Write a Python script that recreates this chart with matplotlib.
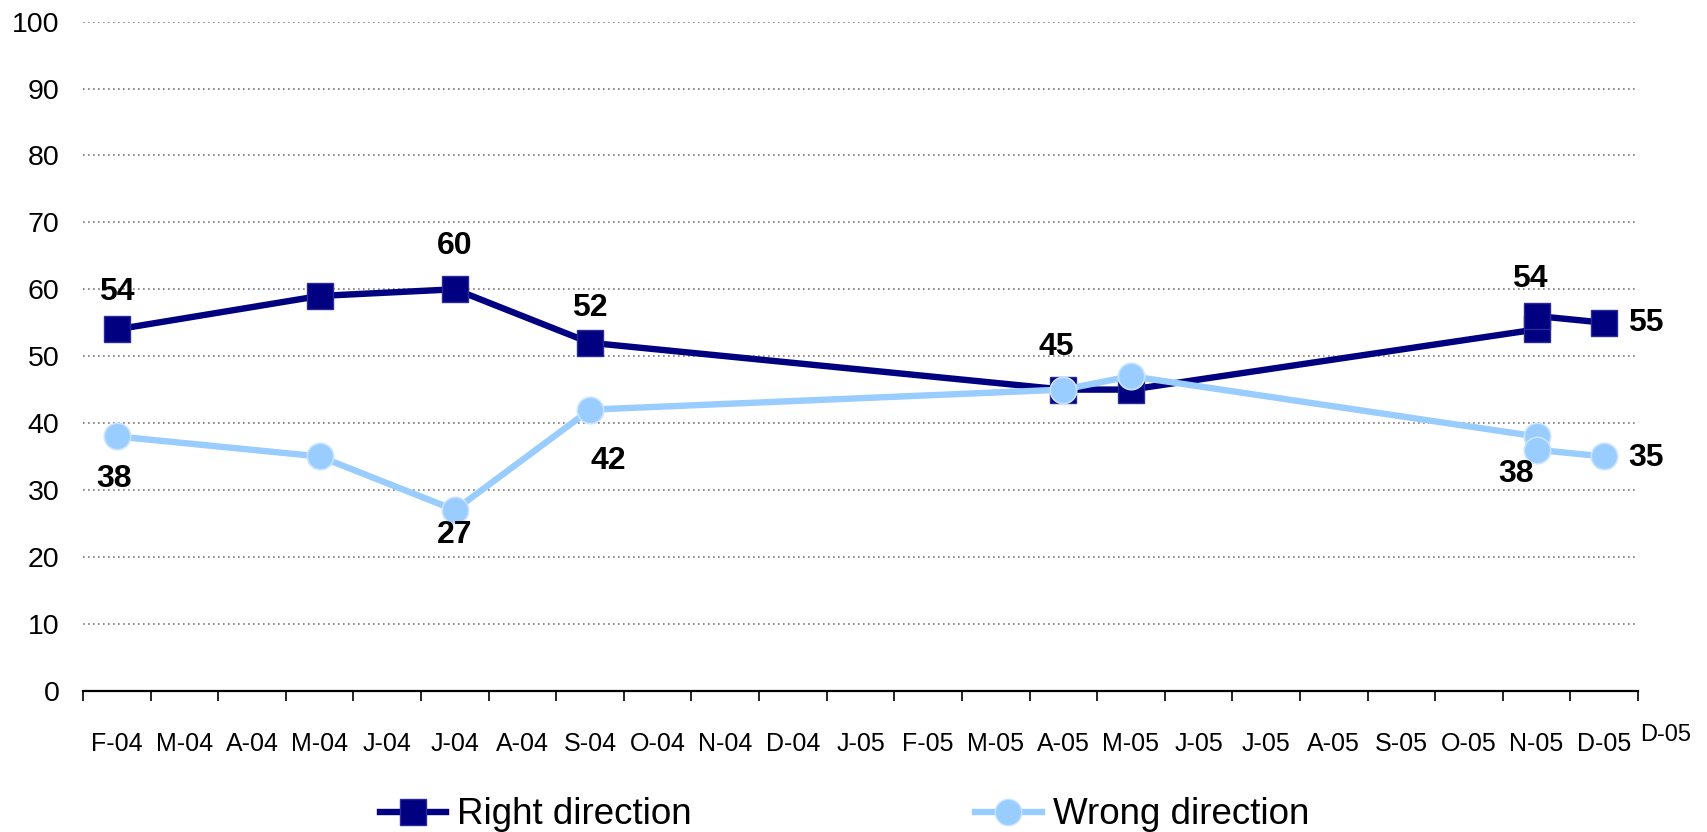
import numpy as np
import matplotlib.pyplot as plt
from matplotlib.lines import Line2D

plt.rcParams['font.family'] = ['Liberation Sans', 'DejaVu Sans']

# month axis, F-04 .. D-05
months = ['F-04', 'M-04', 'A-04', 'M-04', 'J-04', 'J-04', 'A-04', 'S-04', 'O-04',
          'N-04', 'D-04', 'J-05', 'F-05', 'M-05', 'A-05', 'M-05', 'J-05', 'J-05',
          'A-05', 'S-05', 'O-05', 'N-05', 'D-05']

# survey points (month index from F-04)
survey_x = [0, 3, 5, 7, 14, 15, 21, 21, 22]
right_dir = [54, 59, 60, 52, 45, 45, 54, 56, 55]
wrong_dir = [38, 35, 27, 42, 45, 47, 38, 36, 35]

# which points carry a value label, with offset in pixels
right_labels = {0: (0, 37), 2: (0, 43), 3: (0, 35), 4: (-7, 43), 6: (-7, 50), 8: (42, 0)}
wrong_labels = {0: (-3, -43), 2: (0, -25), 3: (18, -51), 6: (-20, -38), 8: (42, -2)}

navy = '#000080'
light = '#99ccff'

fig = plt.figure(figsize=(17.08, 8.32), dpi=100)
ax = fig.add_axes([83 / 1708, 1 - 690.6 / 832, (1638 - 83) / 1708, (690.6 - 21.7) / 832])

ax.plot(survey_x, right_dir, color=navy, lw=4.6, marker='s', ms=19,
        mfc=navy, mec='#2a2a9a', mew=1, label='Right direction', zorder=3)
ax.plot(survey_x, wrong_dir, color=light, lw=4.6, marker='o', ms=19,
        mfc=light, mec='#c8e4ff', mew=1.2, label='Wrong direction', zorder=4)

for i, (dx, dy) in right_labels.items():
    ax.annotate(str(right_dir[i]), (survey_x[i], right_dir[i]), xytext=(dx, dy),
                textcoords='offset pixels', ha='center', va='center',
                fontsize=23, fontweight='bold', zorder=5)
for i, (dx, dy) in wrong_labels.items():
    ax.annotate(str(wrong_dir[i]), (survey_x[i], wrong_dir[i]), xytext=(dx, dy),
                textcoords='offset pixels', ha='center', va='center',
                fontsize=23, fontweight='bold', zorder=5)

ax.set_xlim(-0.5, len(months) - 0.5)
ax.set_ylim(0, 100)

# dotted gridlines
ax.set_yticks(np.arange(0, 101, 10))
for v in range(10, 101, 10):
    ax.axhline(v, color='#7a7a7a', lw=1.2, ls=(0, (1, 2)), zorder=1)
ax.tick_params(axis='y', length=0, pad=17, labelsize=20.5)

# tick marks between months, labels at month centres
ax.set_xticks(np.arange(-0.5, len(months), 1.0))
ax.set_xticklabels([])
ax.tick_params(axis='x', which='major', length=7, width=1.2, direction='out', color='black')
ax.set_xticks(np.arange(len(months)), minor=True)
ax.set_xticklabels(months, minor=True)
ax.tick_params(axis='x', which='minor', length=0, pad=30, labelsize=18)

ax.annotate('D-05', (len(months) - 0.5, 0), xytext=(28, -44), textcoords='offset pixels',
            ha='center', va='center', fontsize=17, annotation_clip=False)

for s in ['top', 'right', 'left']:
    ax.spines[s].set_visible(False)
ax.spines['bottom'].set_linewidth(1.6)
ax.spines['bottom'].set_zorder(2)

handles = [Line2D([], [], color=navy, lw=4.6, marker='s', ms=19, mfc=navy, mec='#2a2a9a'),
           Line2D([], [], color=light, lw=4.6, marker='o', ms=19, mfc=light, mec='#c8e4ff')]
fig.legend(handles, ['Right direction', 'Wrong direction'], loc='center left',
           bbox_to_anchor=(380 / 1708, 17 / 832), ncol=2, frameon=False, fontsize=26.5,
           handlelength=1.8, handletextpad=0.3, columnspacing=7.7, borderpad=0,
           borderaxespad=0)

fig.savefig('out.png', dpi=100)
